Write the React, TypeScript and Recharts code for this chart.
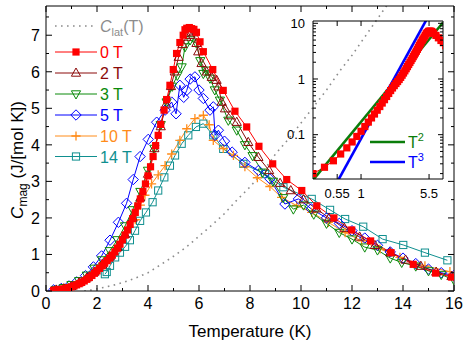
import React from 'react';
import { LineChart, Line, XAxis, YAxis } from 'recharts';

const FONT = '"Liberation Sans", Arial, Helvetica, sans-serif';

type P = [number, number];

// Temperature (K), C_mag (J/[mol K])
const ZERO_T: P[] = [
  [0.3, 0.02], [0.4, 0.026], [0.5, 0.034], [0.6, 0.045], [0.7, 0.058], [0.8, 0.074], [0.9, 0.093], [1.0, 0.115],
  [1.1, 0.14], [1.2, 0.168], [1.3, 0.2], [1.4, 0.235], [1.5, 0.275], [1.6, 0.32], [1.7, 0.37], [1.8, 0.425],
  [1.9, 0.485], [2.0, 0.55], [2.1, 0.62], [2.2, 0.69], [2.3, 0.76], [2.4, 0.83], [2.5, 0.9], [2.6, 0.98],
  [2.7, 1.07], [2.8, 1.17], [2.9, 1.28], [3.0, 1.4], [3.1, 1.53], [3.2, 1.67], [3.3, 1.82], [3.4, 1.98],
  [3.5, 2.15], [3.6, 2.33], [3.7, 2.52], [3.8, 2.72], [3.9, 2.93], [4.0, 3.15], [4.1, 3.4], [4.2, 3.68],
  [4.3, 3.98], [4.4, 4.26], [4.5, 4.56], [4.63, 4.95], [4.73, 5.24], [4.86, 5.63], [4.99, 6.06], [5.12, 6.5],
  [5.25, 6.8], [5.38, 7.0], [5.45, 7.15], [5.52, 7.19], [5.62, 7.21], [5.71, 7.18], [5.8, 7.16], [5.9, 7.08],
  [6.04, 6.82], [6.17, 6.55], [6.54, 6.06], [6.95, 5.49], [7.41, 4.92], [7.87, 4.49], [8.35, 3.96], [8.89, 3.48],
  [9.44, 3.05], [10.03, 2.75], [10.62, 2.33], [11.29, 2.0], [11.99, 1.67], [12.73, 1.37], [13.53, 1.05],
  [14.4, 0.73], [15.28, 0.49], [15.91, 0.38],
];

const TWO_T: P[] = [
  [0.4, 0.03], [0.7, 0.065], [1.0, 0.13], [1.3, 0.23], [1.6, 0.36], [1.9, 0.52], [2.2, 0.72], [2.5, 0.94],
  [2.8, 1.2], [3.1, 1.55], [3.4, 2.0], [3.7, 2.55], [4.0, 3.2], [4.25, 3.9], [4.5, 4.5], [4.7, 5.1], [4.9, 5.6],
  [5.05, 6.0], [5.2, 6.4], [5.35, 6.75], [5.5, 6.95], [5.65, 7.0], [5.78, 7.07], [5.9, 6.78], [5.97, 6.55],
  [6.1, 6.23], [6.3, 6.0], [6.5, 5.85], [6.69, 5.77], [6.76, 5.59], [6.89, 5.17], [7.02, 4.99], [7.22, 4.8],
  [7.48, 4.62], [7.93, 4.07], [8.33, 3.66], [8.75, 3.3], [9.18, 2.95], [9.6, 2.75], [10.1, 2.5], [10.6, 2.25],
  [11.1, 2.0], [11.7, 1.72], [12.3, 1.48], [12.9, 1.25], [13.5, 1.05], [14.1, 0.85], [14.7, 0.68], [15.3, 0.52],
  [15.9, 0.4],
];

const THREE_T: P[] = [
  [0.4, 0.04], [0.7, 0.09], [1.0, 0.17], [1.3, 0.28], [1.6, 0.43], [1.9, 0.62], [2.2, 0.85], [2.5, 1.1],
  [2.8, 1.4], [3.1, 1.78], [3.4, 2.22], [3.7, 2.72], [4.0, 3.3], [4.25, 3.9], [4.5, 4.55], [4.73, 5.17],
  [4.95, 5.6], [5.15, 5.9], [5.32, 6.13], [5.45, 6.68], [5.65, 6.87], [5.9, 6.78], [6.05, 6.3], [6.17, 5.95],
  [6.3, 6.04], [6.43, 5.82], [6.62, 5.5], [6.82, 5.22], [7.15, 4.67], [7.48, 4.4], [7.8, 4.0], [8.1, 3.7],
  [8.5, 3.25], [8.9, 3.0], [9.3, 2.55], [9.7, 2.24], [10.1, 2.35], [10.5, 2.1], [11.0, 1.85], [11.5, 1.6],
  [12.0, 1.42], [12.5, 1.2], [13.0, 1.12], [13.5, 0.9], [13.95, 0.78], [14.5, 0.68], [15.0, 0.55], [15.5, 0.45],
  [16.0, 0.3],
];

const FIVE_T: P[] = [
  [0.3, 0.03], [0.6, 0.07], [0.9, 0.14], [1.2, 0.25], [1.55, 0.42], [1.86, 0.66], [2.18, 0.96], [2.51, 1.39],
  [2.84, 1.88], [3.16, 2.4], [3.42, 3.05], [3.69, 3.68], [4.01, 4.15], [4.34, 4.62], [4.67, 4.95], [4.93, 5.17],
  [5.1, 4.85], [5.25, 5.63], [5.4, 5.3], [5.52, 5.49], [5.65, 5.8], [5.84, 5.86], [6.0, 5.5], [6.17, 5.27],
  [6.43, 4.95], [6.56, 5.04], [6.63, 4.26], [6.76, 4.4], [7.0, 4.1], [7.3, 3.8], [7.8, 3.52], [8.33, 3.3],
  [8.78, 3.07], [9.37, 2.38], [9.9, 2.52], [10.4, 2.25], [11.0, 2.0], [11.5, 1.85], [12.0, 1.65], [12.5, 1.45],
  [13.0, 1.25], [13.5, 1.07], [14.0, 0.9], [14.5, 0.75], [15.0, 0.6], [15.5, 0.5], [16.0, 0.42],
];

const TEN_T: P[] = [
  [3.5, 1.95], [3.7, 2.35], [3.88, 2.62], [4.14, 2.93], [4.4, 3.18], [4.67, 3.43], [4.93, 3.75], [5.25, 4.12],
  [5.52, 4.44], [5.84, 4.72], [6.17, 4.81], [6.4, 4.55], [6.56, 4.12], [6.95, 3.9], [7.35, 3.71], [7.8, 3.4],
  [8.29, 3.1], [8.78, 2.86], [9.24, 2.56], [9.83, 2.34], [10.42, 2.15], [11.07, 1.88], [11.73, 1.6],
  [12.38, 1.37], [13.1, 1.15], [13.88, 0.92], [14.86, 0.69], [15.84, 0.53],
];

const FOURTEEN_T: P[] = [
  [2.31, 0.46], [2.38, 0.52], [2.51, 0.69], [2.71, 0.92], [2.9, 1.05], [3.1, 1.21], [3.29, 1.39], [3.49, 1.65],
  [3.69, 1.92], [3.92, 2.15], [4.18, 2.43], [4.4, 2.75], [4.64, 3.11], [4.86, 3.43], [5.06, 3.71], [5.32, 4.03],
  [5.58, 4.26], [5.88, 4.49], [6.17, 4.58], [6.56, 4.26], [6.95, 3.89], [7.74, 3.48], [8.59, 3.2], [9.31, 2.84],
  [10.42, 2.52], [11.14, 2.22], [11.73, 1.97], [12.44, 1.76], [13.2, 1.42], [14.01, 1.26], [14.86, 1.05],
  [15.74, 0.84],
];

const C_LAT: P[] = [
  [1.5, 0.0], [1.8, 0.03], [2.2, 0.09], [2.6, 0.15], [3.0, 0.23], [3.5, 0.35], [4.0, 0.5], [4.5, 0.72],
  [5.0, 0.95], [5.5, 1.2], [6.0, 1.5], [6.5, 1.8], [7.0, 2.12], [7.5, 2.5], [8.0, 2.85], [8.5, 3.25],
  [9.0, 3.75], [9.5, 4.15], [10.0, 4.6], [10.5, 5.05], [11.0, 5.5], [11.5, 6.0], [12.0, 6.45], [12.5, 6.95],
  [13.0, 7.45], [13.5, 7.95],
];

// inset power-law guides (log-log)
const T2_FIT: P[] = [[0.3, 0.0153], [7.8, 10.34]];
const T3_FIT: P[] = [[0.55, 0.0141], [5.5, 14.1]];

const X_MAJOR = [0, 2, 4, 6, 8, 10, 12, 14, 16];
const X_ALL = [0, 1, 2, 3, 4, 5, 6, 7, 8, 9, 10, 11, 12, 13, 14, 15, 16];
const Y_MAJOR = [0, 1, 2, 3, 4, 5, 6, 7];
const Y_ALL = [0, 0.5, 1, 1.5, 2, 2.5, 3, 3.5, 4, 4.5, 5, 5.5, 6, 6.5, 7, 7.5];
const INSET_X_TICKS = [0.55, 1, 5.5];
const INSET_Y_MAJOR = [0.1, 1, 10];
const INSET_Y_ALL = [
  0.02, 0.03, 0.04, 0.05, 0.06, 0.07, 0.08, 0.09, 0.1, 0.2, 0.3, 0.4, 0.5, 0.6, 0.7, 0.8, 0.9, 1, 2, 3, 4, 5, 6, 7, 8, 9, 10,
];

const COL = {
  t0: '#ff0000',
  t2: '#8b0a0a',
  t3: '#0a8a0a',
  t5: '#0000ff',
  t10: '#ff8c1a',
  t14: '#0f8f8f',
  lat: '#8c8c8c',
  fit2: '#0a7d0a',
  fit3: '#0000ff',
};

const rows = (pts: P[]) => pts.map(([t, c]) => ({ t, c }));

type Kind = 'fsq' | 'tri' | 'trid' | 'dia' | 'plus' | 'osq';

function Marker({ kind, cx, cy, color, s = 1 }: { kind: Kind; cx: number; cy: number; color: string; s?: number }) {
  switch (kind) {
    case 'fsq':
      return <rect x={cx - 3.6 * s} y={cy - 3.6 * s} width={7.2 * s} height={7.2 * s} fill={color} stroke="none" />;
    case 'osq':
      return <rect x={cx - 3.6} y={cy - 3.6} width={7.2} height={7.2} fill="none" stroke={color} strokeWidth={1} />;
    case 'tri':
      return <polygon points={`${cx},${cy - 5} ${cx - 4.6},${cy + 3.2} ${cx + 4.6},${cy + 3.2}`} fill="none" stroke={color} strokeWidth={1} />;
    case 'trid':
      return <polygon points={`${cx},${cy + 5} ${cx - 4.6},${cy - 3.2} ${cx + 4.6},${cy - 3.2}`} fill="none" stroke={color} strokeWidth={1} />;
    case 'dia':
      return <polygon points={`${cx},${cy - 5.2} ${cx + 5.2},${cy} ${cx},${cy + 5.2} ${cx - 5.2},${cy}`} fill="none" stroke={color} strokeWidth={1} />;
    case 'plus':
      return <path d={`M${cx - 4.6},${cy}H${cx + 4.6}M${cx},${cy - 4.6}V${cy + 4.6}`} stroke={color} strokeWidth={1.3} fill="none" />;
  }
  return null;
}

const dotFn = (kind: Kind, color: string, s = 1) => (p: any) => {
  const k = `d${p.index}`;
  if (p.cx == null || p.cy == null || Number.isNaN(p.cx) || Number.isNaN(p.cy)) return <g key={k} />;
  return (
    <g key={k}>
      <Marker kind={kind} cx={p.cx} cy={p.cy} color={color} s={s} />
    </g>
  );
};

type Side = 'bottom' | 'top' | 'left' | 'right';
const isIn = (arr: number[], v: number) => arr.some((m) => Math.abs(m - v) < 1e-9);

// inward-pointing tick marks, labels only on major ticks (when requested)
const mkTick =
  (side: Side, majors: number[], labels: boolean, fontSize: number, majorLen: number, minorLen: number, gap: number) =>
  (p: any) => {
    const v = p.payload?.value;
    const x = p.x;
    const y = p.y;
    const major = isIn(majors, v);
    const len = major ? majorLen : minorLen;
    let ln: React.ReactNode = null;
    let tx: React.ReactNode = null;
    if (side === 'bottom') {
      ln = <line x1={x} x2={x} y1={y} y2={y - len} stroke="#000" strokeWidth={1} />;
      if (labels && major)
        tx = (
          <text x={x} y={y + gap} dy="0.72em" textAnchor="middle" fontSize={fontSize} fontFamily={FONT} fill="#000">
            {String(v)}
          </text>
        );
    } else if (side === 'top') {
      ln = <line x1={x} x2={x} y1={y} y2={y + len} stroke="#000" strokeWidth={1} />;
    } else if (side === 'left') {
      ln = <line x1={x} x2={x + len} y1={y} y2={y} stroke="#000" strokeWidth={1} />;
      if (labels && major)
        tx = (
          <text x={x - gap} y={y} dy="0.36em" textAnchor="end" fontSize={fontSize} fontFamily={FONT} fill="#000">
            {String(v)}
          </text>
        );
    } else {
      ln = <line x1={x} x2={x - len} y1={y} y2={y} stroke="#000" strokeWidth={1} />;
    }
    return (
      <g>
        {ln}
        {tx}
      </g>
    );
  };

const SERIES = [
  { key: '14 T', data: FOURTEEN_T, color: COL.t14, kind: 'osq' as Kind },
  { key: '10 T', data: TEN_T, color: COL.t10, kind: 'plus' as Kind },
  { key: '5 T', data: FIVE_T, color: COL.t5, kind: 'dia' as Kind },
  { key: '3 T', data: THREE_T, color: COL.t3, kind: 'trid' as Kind },
  { key: '2 T', data: TWO_T, color: COL.t2, kind: 'tri' as Kind },
  { key: '0 T', data: ZERO_T, color: COL.t0, kind: 'fsq' as Kind },
];

const LEGEND = [
  { label: '0 T', color: COL.t0, kind: 'fsq' as Kind },
  { label: '2 T', color: COL.t2, kind: 'tri' as Kind },
  { label: '3 T', color: COL.t3, kind: 'trid' as Kind },
  { label: '5 T', color: COL.t5, kind: 'dia' as Kind },
  { label: '10 T', color: COL.t10, kind: 'plus' as Kind },
  { label: '14 T', color: COL.t14, kind: 'osq' as Kind },
];
const LEGEND_Y = [52, 73, 94, 115, 136, 156.5];

const abs: React.CSSProperties = { position: 'absolute', left: 0, top: 0 };
const axisLineStyle = { stroke: '#000', strokeWidth: 1 };

function MainChart() {
  const common = { type: 'number' as const, allowDataOverflow: true, interval: 0 as const, tickLine: false, tickSize: 0, tickMargin: 0, axisLine: axisLineStyle };
  return (
    <LineChart width={469} height={345} margin={{ top: 1, right: 10, bottom: 24, left: 6 }}>
      <XAxis {...common} dataKey="t" xAxisId="b" orientation="bottom" height={30} domain={[0, 16]} ticks={X_ALL} tick={mkTick('bottom', X_MAJOR, true, 16, 6, 3, 6)} />
      <XAxis {...common} dataKey="t" xAxisId="t" orientation="top" height={5} domain={[0, 16]} ticks={X_ALL} tick={mkTick('top', X_MAJOR, false, 16, 6, 3, 6)} />
      <YAxis {...common} yAxisId="l" orientation="left" width={40} domain={[0, 7.8]} ticks={Y_ALL} tick={mkTick('left', Y_MAJOR, true, 16, 6, 3, 6)} />
      <YAxis {...common} yAxisId="r" orientation="right" width={5} domain={[0, 7.8]} ticks={Y_ALL} tick={mkTick('right', Y_MAJOR, false, 16, 6, 3, 6)} />
      <Line
        xAxisId="b"
        yAxisId="l"
        data={rows(C_LAT)}
        dataKey="c"
        stroke={COL.lat}
        strokeWidth={1.6}
        strokeDasharray="1.6 4.4"
        dot={false}
        activeDot={false}
        isAnimationActive={false}
      />
      {SERIES.map((s) => (
        <Line
          key={s.key}
          xAxisId="b"
          yAxisId="l"
          data={rows(s.data)}
          dataKey="c"
          name={s.key}
          stroke={s.color}
          strokeWidth={1}
          dot={dotFn(s.kind, s.color)}
          activeDot={false}
          isAnimationActive={false}
        />
      ))}
    </LineChart>
  );
}

function InsetChart() {
  const common = { type: 'number' as const, scale: 'log' as const, allowDataOverflow: true, interval: 0 as const, tickLine: false, tickSize: 0, tickMargin: 0, axisLine: axisLineStyle };
  return (
    <LineChart width={469} height={345} margin={{ top: 16, right: 21, bottom: 146, left: 283 }}>
      <XAxis {...common} dataKey="t" xAxisId="b" orientation="bottom" height={20} domain={[0.3, 7.8]} ticks={INSET_X_TICKS} tick={mkTick('bottom', INSET_X_TICKS, true, 13, 5, 3, 10)} />
      <XAxis {...common} dataKey="t" xAxisId="t" orientation="top" height={5} domain={[0.3, 7.8]} ticks={INSET_X_TICKS} tick={mkTick('top', INSET_X_TICKS, false, 13, 5, 3, 10)} />
      <YAxis {...common} yAxisId="l" orientation="left" width={30} domain={[0.016, 11]} ticks={INSET_Y_ALL} tick={mkTick('left', INSET_Y_MAJOR, true, 13, 5, 3, 8)} />
      <YAxis {...common} yAxisId="r" orientation="right" width={5} domain={[0.016, 11]} ticks={INSET_Y_ALL} tick={mkTick('right', INSET_Y_MAJOR, false, 13, 5, 3, 8)} />
      <Line
        xAxisId="b"
        yAxisId="l"
        data={rows(ZERO_T)}
        dataKey="c"
        stroke={COL.t0}
        strokeWidth={1}
        dot={dotFn('fsq', COL.t0, 1)}
        activeDot={false}
        isAnimationActive={false}
      />
      <Line xAxisId="b" yAxisId="l" data={rows(T2_FIT)} dataKey="c" stroke={COL.fit2} strokeWidth={2.6} dot={false} activeDot={false} isAnimationActive={false} />
      <Line xAxisId="b" yAxisId="l" data={rows(T3_FIT)} dataKey="c" stroke={COL.fit3} strokeWidth={2.6} dot={false} activeDot={false} isAnimationActive={false} />
    </LineChart>
  );
}

function Overlay() {
  return (
    <svg width={469} height={345} style={abs} fontFamily={FONT}>
      {/* main legend */}
      <line x1={55} x2={97} y1={26} y2={26} stroke={COL.lat} strokeWidth={1.6} strokeDasharray="1.6 4.4" />
      <text x={100} y={32} fontSize={16} fill={COL.lat}>
        <tspan fontStyle="italic">C</tspan>
        <tspan fontSize={11} dy={4}>lat</tspan>
        <tspan dy={-4}>(T)</tspan>
      </text>
      {LEGEND.map((l, i) => (
        <g key={l.label}>
          <line x1={55} x2={97} y1={LEGEND_Y[i]} y2={LEGEND_Y[i]} stroke={l.color} strokeWidth={1} />
          <Marker kind={l.kind} cx={76} cy={LEGEND_Y[i]} color={l.color} />
          <text x={100} y={LEGEND_Y[i] + 6} fontSize={16} fill={l.color}>
            {l.label}
          </text>
        </g>
      ))}
      {/* inset legend */}
      <line x1={370} x2={405} y1={142} y2={142} stroke={COL.fit2} strokeWidth={2.6} />
      <text x={408} y={148} fontSize={16} fill={COL.fit2}>
        T<tspan fontSize={11} dy={-7}>2</tspan>
      </text>
      <line x1={370} x2={405} y1={162} y2={162} stroke={COL.fit3} strokeWidth={2.6} />
      <text x={408} y={168} fontSize={16} fill={COL.fit3}>
        T<tspan fontSize={11} dy={-7}>3</tspan>
      </text>
      {/* axis titles */}
      <text x={250} y={337} fontSize={17} textAnchor="middle" fill="#000">
        Temperature (K)
      </text>
      <text transform="translate(23,160) rotate(-90)" fontSize={17} textAnchor="middle" fill="#000">
        <tspan fontStyle="italic">C</tspan>
        <tspan fontSize={12} dy={4}>mag</tspan>
        <tspan dy={-4}> (J/[mol K])</tspan>
      </text>
    </svg>
  );
}

export default function App() {
  return (
    <div style={{ position: 'absolute', left: 0, top: 0, width: 469, height: 345, background: '#fff', fontFamily: FONT }}>
      <div style={abs}>
        <MainChart />
      </div>
      <div style={abs}>
        <InsetChart />
      </div>
      <Overlay />
    </div>
  );
}
